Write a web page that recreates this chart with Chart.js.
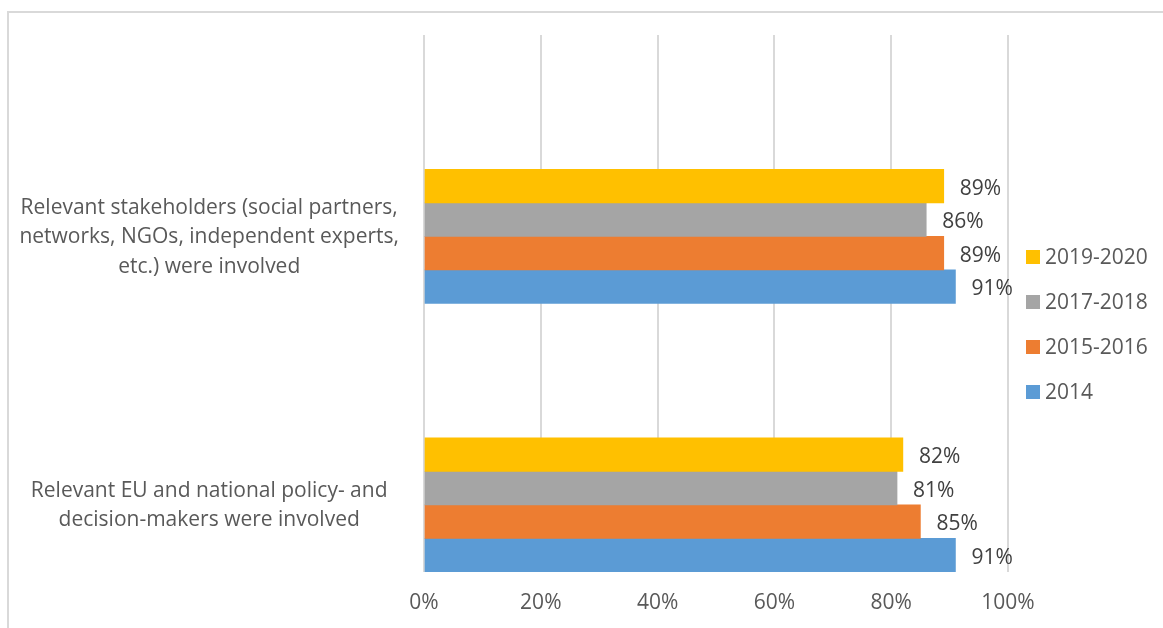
<!DOCTYPE html>
<html><head><meta charset="utf-8">
<script src="https://cdn.jsdelivr.net/npm/chart.js@4"></script>
<style>html,body{margin:0;padding:0;background:#fff}#wrap{position:relative;width:1163px;height:628px}canvas{display:block}</style>
</head><body><div id="wrap"><canvas id="c" width="1163" height="628"></canvas></div>
<script>
const categories = [
  ["Relevant stakeholders (social partners,", "networks, NGOs, independent experts,", "etc.) were involved"],
  ["Relevant EU and national policy- and", "decision-makers were involved"]
];
const seriesNames = ["2019-2020", "2017-2018", "2015-2016", "2014"];
const values2019_2020 = [89, 82];
const values2017_2018 = [86, 81];
const values2015_2016 = [89, 85];
const values2014 = [91, 91];
const seriesColors = ["#FFC000", "#A5A5A5", "#ED7D31", "#5B9BD5"];
const xTickStep = 20;
const xMin = 0, xMax = 100;

const FONT = "'Open Sans', 'Liberation Sans', sans-serif";
const FS = 21;
const seriesValues = [values2019_2020, values2017_2018, values2015_2016, values2014];

// empty spacer series (occupy the upper half of each category band, like the source chart)
const spacers = [0, 1, 2, 3].map(i => ({label: "", data: [null, null], spacer: true, backgroundColor: "transparent"}));
const realSets = seriesNames.map((n, i) => ({label: n, data: seriesValues[i], backgroundColor: seriesColors[i], borderWidth: 0}));

const borderPlugin = {
  id: 'frame',
  beforeDraw(chart) {
    const ctx = chart.ctx;
    ctx.save();
    ctx.strokeStyle = '#d9d9d9';
    ctx.lineWidth = 2;
    ctx.beginPath();
    ctx.moveTo(8, 700); ctx.lineTo(8, 12); ctx.lineTo(1200, 12);
    ctx.stroke();
    ctx.restore();
  }
};

const valueLabels = {
  id: 'valueLabels',
  afterDatasetsDraw(chart) {
    const ctx = chart.ctx;
    ctx.save();
    ctx.font = FS + "px " + FONT;
    ctx.fillStyle = '#404040';
    ctx.textAlign = 'left';
    ctx.textBaseline = 'middle';
    chart.data.datasets.forEach((ds, di) => {
      if (ds.spacer) return;
      chart.getDatasetMeta(di).data.forEach((bar, j) => {
        const v = ds.data[j];
        if (v == null) return;
        ctx.fillText(v + '%', bar.x + 16, bar.y + 2.5);
      });
    });
    ctx.restore();
  }
};

const customLegend = {
  id: 'customLegend',
  afterDraw(chart) {
    const ctx = chart.ctx;
    ctx.save();
    ctx.font = FS + "px " + FONT;
    ctx.textAlign = 'left';
    ctx.textBaseline = 'middle';
    let y = 257;
    chart.data.datasets.forEach(ds => {
      if (ds.spacer) return;
      ctx.fillStyle = ds.backgroundColor;
      ctx.fillRect(1026, y - 7, 14, 14);
      ctx.fillStyle = '#595959';
      ctx.fillText(ds.label, 1045, y + 1);
      y += 45;
    });
    ctx.restore();
  }
};

new Chart(document.getElementById('c'), {
  type: 'bar',
  data: {labels: categories, datasets: spacers.concat(realSets)},
  options: {
    indexAxis: 'y',
    responsive: false,
    animation: false,
    devicePixelRatio: 1,
    categoryPercentage: 1.0,
    barPercentage: 1.0,
    layout: {padding: {top: 35, right: 155, bottom: 0, left: 0}},
    plugins: {legend: {display: false}, tooltip: {enabled: false}},
    scales: {
      x: {
        min: xMin, max: xMax,
        ticks: {stepSize: xTickStep, callback: v => v + '%', color: '#595959', font: {family: FONT, size: FS}, padding: 18, maxRotation: 0},
        grid: {color: '#d9d9d9', lineWidth: 2, drawTicks: false},
        border: {display: false},
        afterFit: s => { s.height = 56; s.paddingLeft = 0; s.paddingRight = 0; }
      },
      y: {
        grid: {display: false, drawTicks: false},
        border: {display: false},
        ticks: {crossAlign: 'center', padding: 25, labelOffset: 68, color: '#595959', font: {family: FONT, size: FS, lineHeight: 1.4}},
        afterFit: s => { s.width = 424; s.paddingTop = 0; s.paddingBottom = 0; }
      }
    }
  },
  plugins: [borderPlugin, valueLabels, customLegend]
});
</script>
</body></html>
